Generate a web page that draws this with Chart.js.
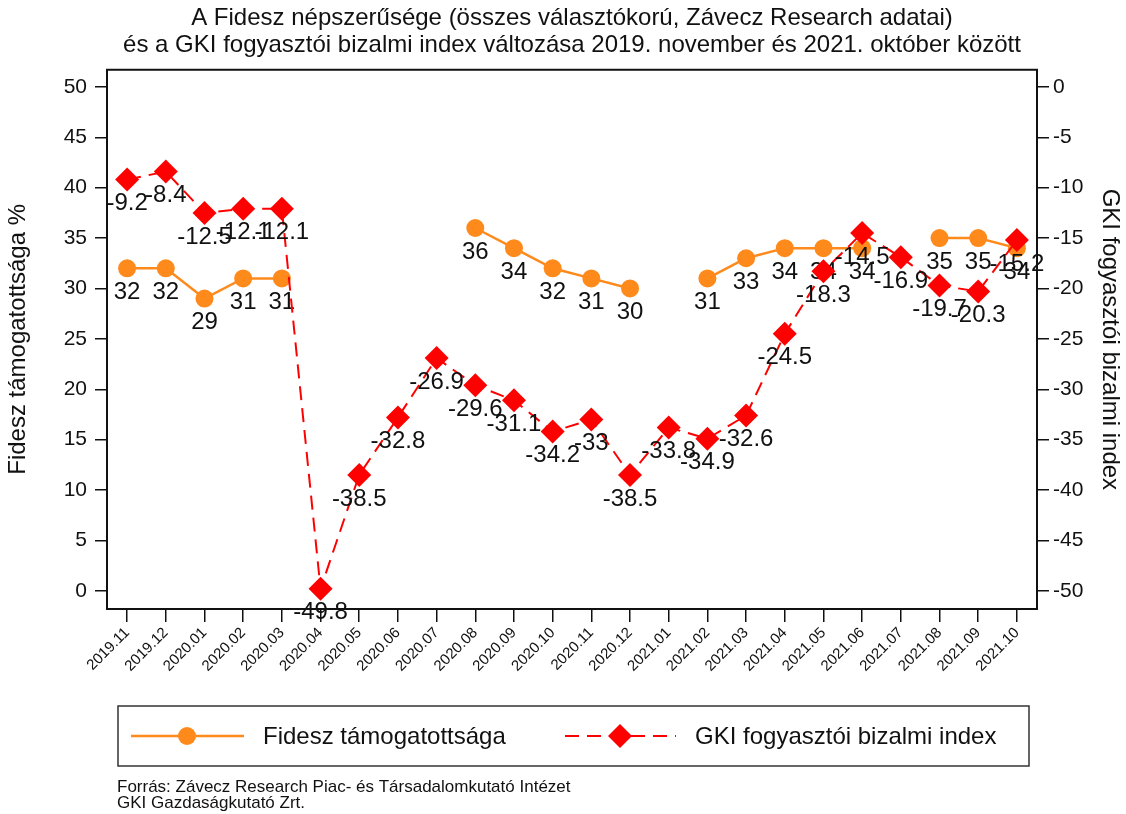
<!DOCTYPE html>
<html>
<head>
<meta charset="utf-8">
<script src="https://cdn.jsdelivr.net/npm/chart.js@4"></script>
<style>
  html, body { margin: 0; padding: 0; background: #fff; }
  #wrap { width: 1126px; height: 814px; position: relative; }
</style>
</head>
<body>
<div id="wrap"><canvas id="chart" width="1126" height="814"></canvas></div>
<script>
// Data
const months = ['2019.11', '2019.12', '2020.01', '2020.02', '2020.03', '2020.04', '2020.05', '2020.06',
  '2020.07', '2020.08', '2020.09', '2020.10', '2020.11', '2020.12', '2021.01', '2021.02', '2021.03',
  '2021.04', '2021.05', '2021.06', '2021.07', '2021.08', '2021.09', '2021.10'];
const fidesz = [32, 32, 29, 31, 31, null, null, null, null, 36, 34, 32, 31, 30, null, 31, 33, 34, 34, 34, null, 35, 35, 34];
const gki = [-9.2, -8.4, -12.5, -12.1, -12.1, -49.8, -38.5, -32.8, -26.9, -29.6, -31.1, -34.2, -33, -38.5,
  -33.8, -34.9, -32.6, -24.5, -18.3, -14.5, -16.9, -19.7, -20.3, -15.2];
const leftTicks = [0, 5, 10, 15, 20, 25, 30, 35, 40, 45, 50];
const rightTicks = [-50, -45, -40, -35, -30, -25, -20, -15, -10, -5, 0];

const ORANGE = '#ff8a1c';
const RED = '#ff0000';
const FONT = '"Liberation Sans", Arial, Helvetica, sans-serif';

function toPoints(arr) {
  return arr.map((v, i) => ({ x: i, y: v }));
}

// value labels under each marker (Stata style, position 6)
const valueLabels = {
  id: 'valueLabels',
  afterDatasetDraw(chart, args) {
    const ctx = chart.ctx;
    const ds = chart.data.datasets[args.index];
    ctx.save();
    ctx.font = '24px ' + FONT;
    ctx.fillStyle = '#111';
    ctx.textAlign = 'center';
    ctx.textBaseline = 'middle';
    args.meta.data.forEach((pt, i) => {
      const v = ds.data[i].y;
      if (v === null || pt.skip) return;
      ctx.fillText(String(v), pt.x, pt.y + 24);
    });
    ctx.restore();
  }
};

// plot frame, legend box and source notes
const decorations = {
  id: 'decorations',
  afterDraw(chart) {
    const ctx = chart.ctx;
    const a = chart.chartArea;
    ctx.save();
    ctx.strokeStyle = '#111';
    ctx.lineWidth = 2;
    ctx.strokeRect(a.left, a.top, a.right - a.left, a.bottom - a.top);

    // legend
    ctx.lineWidth = 1.5;
    ctx.strokeStyle = '#333';
    ctx.strokeRect(118, 706, 911, 60);
    const ly = 736;
    ctx.strokeStyle = ORANGE;
    ctx.lineWidth = 2.5;
    ctx.setLineDash([]);
    ctx.beginPath(); ctx.moveTo(131, ly); ctx.lineTo(244, ly); ctx.stroke();
    ctx.fillStyle = ORANGE;
    ctx.beginPath(); ctx.arc(187, ly, 9, 0, Math.PI * 2); ctx.fill();

    ctx.strokeStyle = RED;
    ctx.lineWidth = 2;
    ctx.setLineDash([14, 8]);
    ctx.beginPath(); ctx.moveTo(565, ly); ctx.lineTo(676, ly); ctx.stroke();
    ctx.setLineDash([]);
    ctx.fillStyle = RED;
    ctx.beginPath();
    ctx.moveTo(620, ly - 12); ctx.lineTo(632, ly); ctx.lineTo(620, ly + 12); ctx.lineTo(608, ly);
    ctx.closePath(); ctx.fill();

    ctx.fillStyle = '#111';
    ctx.font = '24px ' + FONT;
    ctx.textBaseline = 'middle';
    ctx.textAlign = 'left';
    ctx.fillText(chart.data.datasets[0].label, 263, ly + 1);
    ctx.fillText(chart.data.datasets[1].label, 695, ly + 1);

    ctx.font = '17px ' + FONT;
    ctx.fillText('Forrás: Závecz Research Piac- és Társadalomkutató Intézet', 117, 787);
    ctx.fillText('GKI Gazdaságkutató Zrt.', 117, 803);
    ctx.restore();
  }
};

const ctx = document.getElementById('chart');
new Chart(ctx, {
  type: 'line',
  data: {
    datasets: [
      {
        label: 'Fidesz támogatottsága',
        data: toPoints(fidesz),
        yAxisID: 'y',
        borderColor: ORANGE,
        backgroundColor: ORANGE,
        borderWidth: 2.5,
        pointStyle: 'circle',
        pointRadius: 9,
        pointBorderWidth: 0,
        spanGaps: false,
        order: 2
      },
      {
        label: 'GKI fogyasztói bizalmi index',
        data: toPoints(gki),
        yAxisID: 'y2',
        borderColor: RED,
        backgroundColor: RED,
        borderWidth: 2,
        borderDash: [14, 8],
        pointStyle: 'rectRot',
        pointRadius: 12,
        pointBorderWidth: 0,
        order: 1
      }
    ]
  },
  options: {
    responsive: false,
    animation: false,
    layout: { padding: { top: 5, left: 0, right: 0, bottom: 135 } },
    plugins: {
      legend: { display: false },
      tooltip: { enabled: false },
      title: {
        display: true,
        fullSize: false,
        text: ['A Fidesz népszerűsége (összes választókorú, Závecz Research adatai)',
               'és a GKI fogyasztói bizalmi index változása 2019. november és 2021. október között'],
        color: '#111',
        font: { family: FONT, size: 24, weight: 'normal', lineHeight: 1.12 },
        padding: { top: 0, bottom: 11 }
      }
    },
    scales: {
      x: {
        type: 'linear',
        min: -0.52,
        max: 23.52,
        afterBuildTicks: s => { s.ticks = months.map((m, i) => ({ value: i })); },
        afterFit: s => { s.height = 70; },
        grid: { drawOnChartArea: false, drawTicks: true, tickLength: 13, color: '#111', lineWidth: 1.5 },
        border: { display: true, color: '#111', width: 2 },
        ticks: {
          autoSkip: false,
          minRotation: 45,
          maxRotation: 45,
          padding: 2,
          color: '#111',
          font: { family: FONT, size: 15 },
          callback: v => months[v]
        }
      },
      y: {
        position: 'left',
        min: -1.8,
        max: 51.7,
        afterBuildTicks: s => { s.ticks = leftTicks.map(v => ({ value: v })); },
        afterFit: s => { s.width = 107; },
        grid: { drawOnChartArea: false, drawTicks: true, tickLength: 12, color: '#111', lineWidth: 1.5 },
        border: { display: true, color: '#111', width: 2 },
        ticks: { padding: 8, color: '#111', font: { family: FONT, size: 21 } },
        title: {
          display: true,
          text: 'Fidesz támogatottsága %',
          color: '#111',
          font: { family: FONT, size: 24, lineHeight: 1.2 },
          padding: { top: 4, bottom: 0 }
        }
      },
      y2: {
        position: 'right',
        min: -51.8,
        max: 1.7,
        afterBuildTicks: s => { s.ticks = rightTicks.map(v => ({ value: v })); },
        afterFit: s => { s.width = 89; },
        grid: { drawOnChartArea: false, drawTicks: true, tickLength: 12, color: '#111', lineWidth: 1.5 },
        border: { display: true, color: '#111', width: 2 },
        ticks: { padding: 4, color: '#111', font: { family: FONT, size: 21 } },
        title: {
          display: true,
          text: 'GKI fogyasztói bizalmi index',
          color: '#111',
          font: { family: FONT, size: 24, lineHeight: 1.2 },
          padding: { top: 2, bottom: 0 }
        }
      }
    }
  },
  plugins: [valueLabels, decorations]
});
</script>
</body>
</html>
